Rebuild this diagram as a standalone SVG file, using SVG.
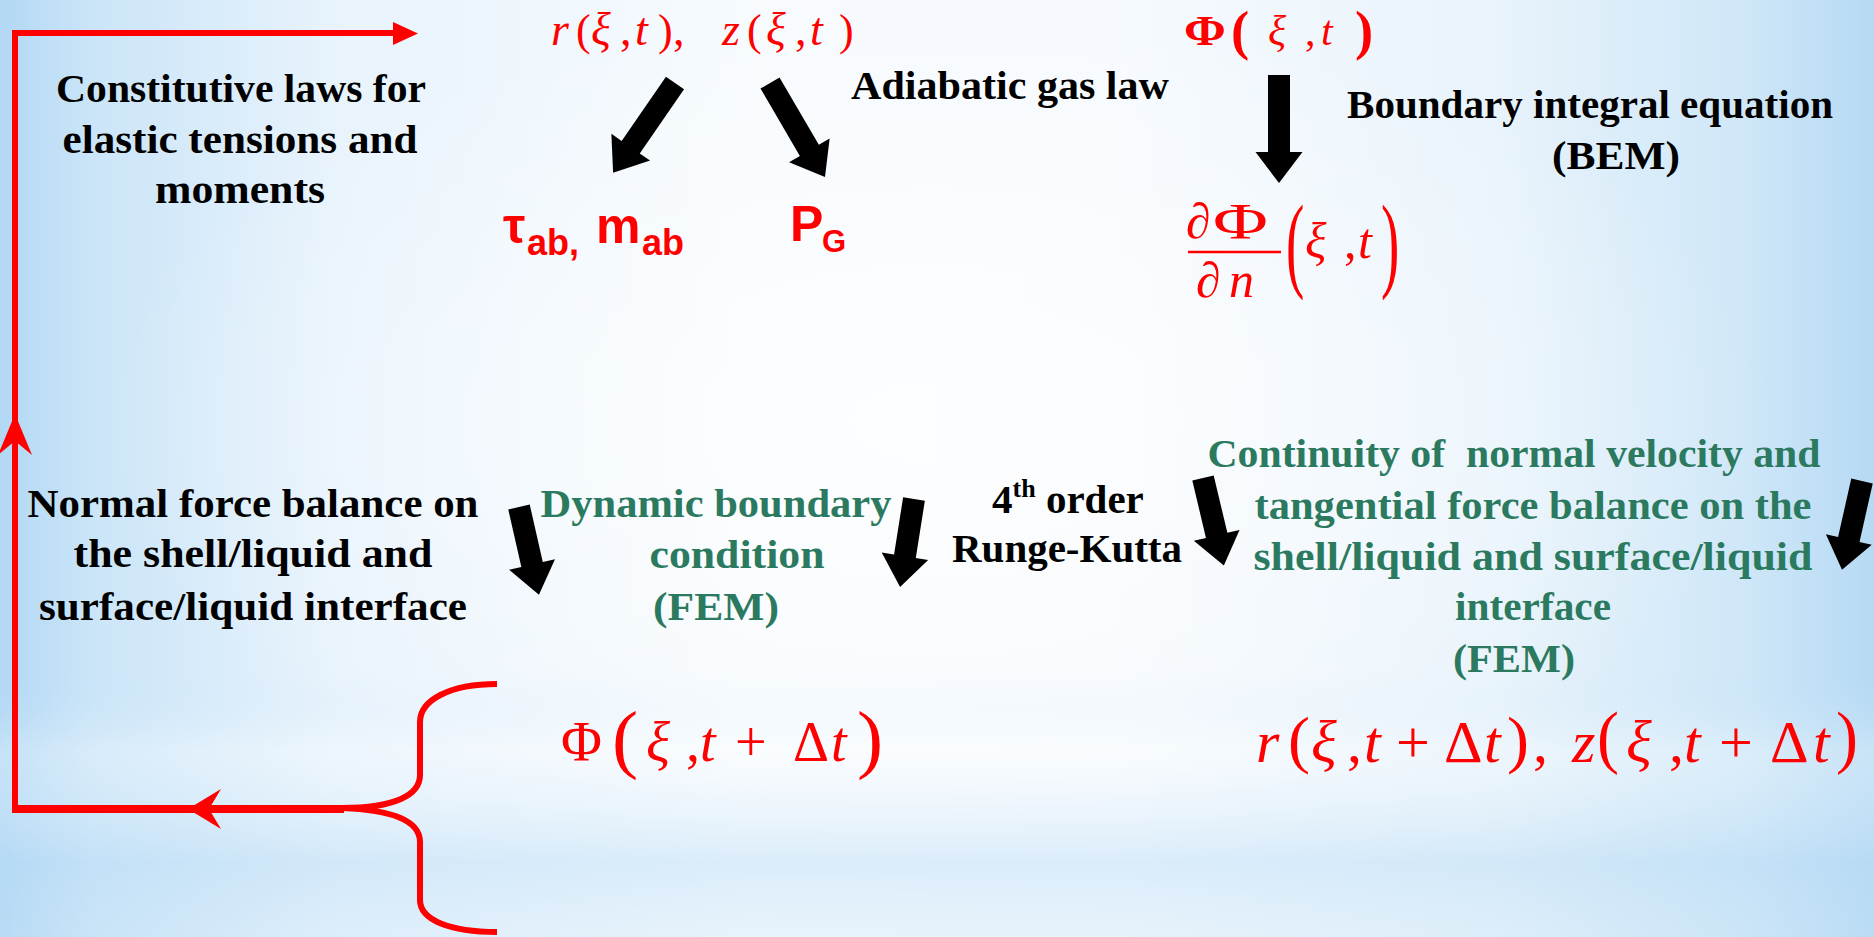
<svg xmlns="http://www.w3.org/2000/svg" width="1874" height="937" viewBox="0 0 1874 937">
<defs>
<linearGradient id="bgH" x1="0" y1="0" x2="1" y2="0">
<stop offset="0" stop-color="#b2d8f4"/>
<stop offset="0.05" stop-color="#cbe5f8"/>
<stop offset="0.18" stop-color="#e8f3fc"/>
<stop offset="0.4" stop-color="#f7fbfe"/>
<stop offset="0.6" stop-color="#f6fafe"/>
<stop offset="0.8" stop-color="#e8f3fb"/>
<stop offset="0.93" stop-color="#cfe7f8"/>
<stop offset="1" stop-color="#b6daf4"/>
</linearGradient>
<linearGradient id="bgV" x1="0" y1="0" x2="0" y2="1">
<stop offset="0" stop-color="#b8dbf5" stop-opacity="0"/>
<stop offset="0.72" stop-color="#b8dbf5" stop-opacity="0"/>
<stop offset="0.8" stop-color="#ffffff" stop-opacity="0.25"/>
<stop offset="0.92" stop-color="#b8dbf5" stop-opacity="0.45"/>
<stop offset="1" stop-color="#c4e1f6" stop-opacity="0.3"/>
</linearGradient>
<radialGradient id="bgR" cx="0.5" cy="0.45" r="0.45">
<stop offset="0" stop-color="#ffffff" stop-opacity="0.7"/>
<stop offset="1" stop-color="#ffffff" stop-opacity="0"/>
</radialGradient>
<style>
.bk{font-family:"Liberation Serif","Times New Roman",serif;font-weight:bold;font-size:41px;fill:#000;text-anchor:middle}
.gr{font-family:"Liberation Serif","Times New Roman",serif;font-weight:bold;font-size:41px;fill:#2b7a5f;text-anchor:middle}
.m{font-family:"Liberation Serif","Times New Roman",serif;fill:#ff0000}
.i{font-style:italic}
.b{font-weight:bold}
.sb{font-family:"Liberation Sans",Arial,sans-serif;font-weight:bold;fill:#ff0000}
.blk{fill:#000}
.rl{stroke:#ff0000;fill:none}
.rf{fill:#ff0000}
</style>
</defs>
<rect width="1874" height="937" fill="url(#bgH)"/>
<rect width="1874" height="937" fill="url(#bgR)"/>
<rect width="1874" height="937" fill="url(#bgV)"/>

<g id="connectors">
<path class="rl" stroke-width="6" d="M15,809 V33 H396"/>
<polygon class="rf" points="393,22 418,33.5 393,45"/>
<polygon class="rf" points="15,414 32,455 15,441 -2,455"/>
<path class="rl" stroke-width="8" d="M344,809 H12"/>
<polygon class="rf" points="188,809 221,789 209,809 221,829"/>
<path class="rl" stroke-width="6" d="M497,684 C450,684 420,700 420,722 L420,775 C420,795 395,808 342,808 M342,808 C395,810 420,822 420,842 L420,900 C420,920 450,932 497,932"/>
<polygon class="blk" transform="translate(1279,75) rotate(90)" points="0,-11 77,-11 77,-23.5 108,0 77,23.5 77,11 0,11"/>
<polygon class="blk" transform="translate(675,83) rotate(124.6)" points="0,-11 78,-11 78,-23.5 109,0 78,23.5 78,11 0,11"/>
<polygon class="blk" transform="translate(770,83) rotate(59.7)" points="0,-11 78,-11 78,-23.5 109,0 78,23.5 78,11 0,11"/>
<polygon class="blk" transform="translate(519,507) rotate(77.2)" points="0,-11 59,-11 59,-23.5 90,0 59,23.5 59,11 0,11"/>
<polygon class="blk" transform="translate(914,499) rotate(99)" points="0,-11 58,-11 58,-23.5 89,0 58,23.5 58,11 0,11"/>
<polygon class="blk" transform="translate(1203,478) rotate(76.6)" points="0,-11 59,-11 59,-23.5 90,0 59,23.5 59,11 0,11"/>
<polygon class="blk" transform="translate(1862,481) rotate(102.7)" points="0,-11 60,-11 60,-23.5 91,0 60,23.5 60,11 0,11"/>
</g>

<g id="node-rz">
<text class="m" font-size="46" y="45"><tspan class="i" x="551">r</tspan><tspan font-size="44" x="576">(</tspan><tspan class="i" x="591">ξ</tspan><tspan x="620">,</tspan><tspan class="i" x="635">t</tspan><tspan font-size="44" x="658">)</tspan><tspan x="673">,</tspan><tspan class="i" x="722">z</tspan><tspan font-size="44" x="747">(</tspan><tspan class="i" x="766">ξ</tspan><tspan x="795">,</tspan><tspan class="i" x="810">t</tspan><tspan font-size="44" x="839">)</tspan></text>
</g>

<g id="node-phi">
<text class="m b" font-size="42" transform="translate(1184,45) scale(1.2,1)">Φ</text>
<text class="m b" font-size="42" transform="translate(1231,49) scale(1.3,1.3)">(</text>
<text class="m i" font-size="42" x="1268" y="45">ξ</text>
<text class="m" font-size="42" x="1305" y="45">,</text>
<text class="m i" font-size="42" x="1321" y="45">t</text>
<text class="m b" font-size="42" transform="translate(1355,49) scale(1.3,1.3)">)</text>
</g>

<g id="node-dphidn">
<text class="m i" font-size="50" x="1186" y="238">∂</text>
<text class="m" font-size="50" transform="translate(1213,238) scale(1.5,1)">Φ</text>
<line x1="1188" y1="252" x2="1281" y2="252" stroke="#ff0000" stroke-width="2.5"/>
<text class="m i" font-size="50" y="297"><tspan x="1196">∂</tspan><tspan x="1229">n</tspan></text>
<text class="m" font-size="50" transform="translate(1286,278) scale(1.1,2.11)">(</text>
<text class="m i" font-size="50" x="1305" y="258">ξ</text>
<text class="m" font-size="50" x="1344" y="258">,</text>
<text class="m i" font-size="50" x="1358" y="258">t</text>
<text class="m" font-size="50" transform="translate(1381,278) scale(1.1,2.11)">)</text>
</g>

<g id="node-tau-m">
<text class="sb" font-size="50" y="243"><tspan x="503">τ</tspan><tspan x="527" y="255" font-size="36">ab,</tspan><tspan x="596" y="243">m</tspan><tspan x="642" y="255" font-size="36">ab</tspan></text>
</g>

<g id="node-pg">
<text class="sb" font-size="50" y="241"><tspan x="790">P</tspan><tspan x="822" y="252" font-size="31">G</tspan></text>
</g>

<g id="label-constitutive">
<text class="bk" x="241" y="102" textLength="370" lengthAdjust="spacingAndGlyphs">Constitutive laws for</text>
<text class="bk" x="240" y="153" textLength="355" lengthAdjust="spacingAndGlyphs">elastic tensions and</text>
<text class="bk" x="240" y="203" textLength="170" lengthAdjust="spacingAndGlyphs">moments</text>
</g>

<g id="label-adiabatic">
<text class="bk" x="1010" y="99" textLength="318" lengthAdjust="spacingAndGlyphs">Adiabatic gas law</text>
</g>

<g id="label-bem">
<text class="bk" x="1590" y="118" textLength="486" lengthAdjust="spacingAndGlyphs">Boundary integral equation</text>
<text class="bk" x="1616" y="169" textLength="128" lengthAdjust="spacingAndGlyphs">(BEM)</text>
</g>

<g id="label-normal">
<text class="bk" x="253" y="517" textLength="451" lengthAdjust="spacingAndGlyphs">Normal force balance on</text>
<text class="bk" x="253" y="567" textLength="359" lengthAdjust="spacingAndGlyphs">the shell/liquid and</text>
<text class="bk" x="253" y="620" textLength="428" lengthAdjust="spacingAndGlyphs">surface/liquid interface</text>
</g>

<g id="label-dynamic">
<text class="gr" x="716" y="517" textLength="351" lengthAdjust="spacingAndGlyphs">Dynamic boundary</text>
<text class="gr" x="737" y="568" textLength="175" lengthAdjust="spacingAndGlyphs">condition</text>
<text class="gr" x="716" y="620" textLength="126" lengthAdjust="spacingAndGlyphs">(FEM)</text>
</g>

<g id="label-rk">
<text class="bk" x="992" y="513" style="text-anchor:start">4<tspan dy="-16" font-size="26">th</tspan><tspan dy="16"> order</tspan></text>
<text class="bk" x="1067" y="562" textLength="230" lengthAdjust="spacingAndGlyphs">Runge-Kutta</text>
</g>

<g id="label-continuity">
<text class="gr" x="1514" y="467" xml:space="preserve" textLength="613" lengthAdjust="spacingAndGlyphs">Continuity of  normal velocity and</text>
<text class="gr" x="1533" y="519" textLength="557" lengthAdjust="spacingAndGlyphs">tangential force balance on the</text>
<text class="gr" x="1533" y="570" textLength="559" lengthAdjust="spacingAndGlyphs">shell/liquid and surface/liquid</text>
<text class="gr" x="1533" y="620" textLength="156" lengthAdjust="spacingAndGlyphs">interface</text>
<text class="gr" x="1514" y="672" textLength="122" lengthAdjust="spacingAndGlyphs">(FEM)</text>
</g>

<g id="node-phi-next">
<text class="m" font-size="56" x="561" y="761">Φ</text>
<text class="m" font-size="56" transform="translate(612,764) scale(1.4,1.36)">(</text>
<text class="m" font-size="56" y="761"><tspan class="i" x="646">ξ</tspan><tspan x="686">,</tspan><tspan class="i" x="700">t</tspan><tspan x="735">+</tspan><tspan x="793">Δ</tspan><tspan class="i" x="831">t</tspan></text>
<text class="m" font-size="56" transform="translate(857,764) scale(1.4,1.36)">)</text>
</g>

<g id="node-rz-next">
<text class="m" font-size="60" y="762"><tspan class="i" x="1256">r</tspan><tspan class="i" x="1311">ξ</tspan><tspan x="1347">,</tspan><tspan class="i" x="1364">t</tspan><tspan x="1396">+</tspan><tspan x="1444">Δ</tspan><tspan class="i" x="1484">t</tspan><tspan x="1533">,</tspan><tspan class="i" x="1572">z</tspan><tspan class="i" x="1626">ξ</tspan><tspan x="1669">,</tspan><tspan class="i" x="1684">t</tspan><tspan x="1719">+</tspan><tspan x="1770">Δ</tspan><tspan class="i" x="1813">t</tspan></text>
<text class="m" font-size="60" transform="translate(1288,761) scale(1.1,1.07)">(</text>
<text class="m" font-size="60" transform="translate(1507,761) scale(1.1,1.07)">)</text>
<text class="m" font-size="60" transform="translate(1597,760) scale(1.1,1.17)">(</text>
<text class="m" font-size="60" transform="translate(1836,760) scale(1.1,1.17)">)</text>
</g>
</svg>
